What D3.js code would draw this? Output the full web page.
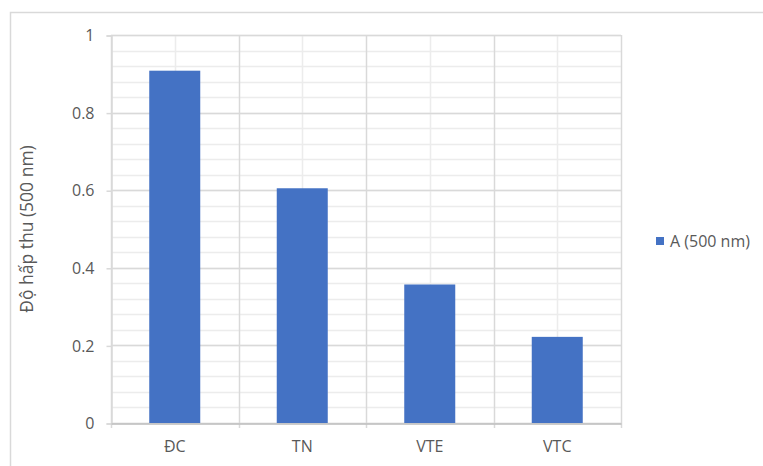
<!DOCTYPE html>
<html>
<head>
<meta charset="utf-8">
<script src="https://cdn.jsdelivr.net/npm/d3@7"></script>
<style>
  body { margin: 0; background: #fff; }
  svg text { font-family: "Open Sans", "Noto Sans", sans-serif; fill: #595959; }
</style>
</head>
<body>
<svg id="chart" width="763" height="466" viewBox="0 0 763 466"></svg>
<script>
var categories = ["ĐC", "TN", "VTE", "VTC"];
var values = [0.908, 0.605, 0.357, 0.222];
var yTicks = [0, 0.2, 0.4, 0.6, 0.8, 1];
var seriesName = "A (500 nm)";
var yLabel = "Độ hấp thu (500 nm)";

var svg = d3.select("#chart");
// không dùng tên "top" vì trùng window.top
var plotLeft = 111, plotRight = 621, plotTop = 35, plotBottom = 423;

// khung ngoài
svg.append("rect")
  .attr("x", 10.5).attr("y", 12.5)
  .attr("width", 800).attr("height", 500)
  .attr("fill", "#fff").attr("stroke", "#d9d9d9").attr("stroke-width", 1.5);

var xScale = d3.scaleBand().domain(categories).range([plotLeft, plotRight]);
var yScale = d3.scaleLinear().domain([0, 1]).range([plotBottom, plotTop]);

// lưới phụ
var minor = d3.range(0, 1.0001, 0.04);
svg.append("g").selectAll("line").data(minor).enter().append("line")
  .attr("x1", plotLeft).attr("x2", plotRight)
  .attr("y1", function (d) { return Math.round(yScale(d)) + 0.5; })
  .attr("y2", function (d) { return Math.round(yScale(d)) + 0.5; })
  .attr("stroke", "#ececec").attr("stroke-width", 1.5);
svg.append("g").selectAll("line").data(categories).enter().append("line")
  .attr("x1", function (d) { return Math.round(xScale(d) + xScale.bandwidth() / 2) + 0.5; })
  .attr("x2", function (d) { return Math.round(xScale(d) + xScale.bandwidth() / 2) + 0.5; })
  .attr("y1", plotTop).attr("y2", plotBottom)
  .attr("stroke", "#ececec").attr("stroke-width", 1.5);

// lưới chính
svg.append("g").selectAll("line").data(yTicks).enter().append("line")
  .attr("x1", plotLeft).attr("x2", plotRight)
  .attr("y1", function (d) { return Math.round(yScale(d)) + 0.5; })
  .attr("y2", function (d) { return Math.round(yScale(d)) + 0.5; })
  .attr("stroke", "#d9d9d9").attr("stroke-width", 1.5);
var bounds = categories.map(function (c) { return xScale(c); }).concat([plotRight]);
svg.append("g").selectAll("line").data(bounds).enter().append("line")
  .attr("x1", function (d) { return Math.round(d) + 0.5; })
  .attr("x2", function (d) { return Math.round(d) + 0.5; })
  .attr("y1", plotTop).attr("y2", plotBottom + 5)
  .attr("stroke", "#d9d9d9").attr("stroke-width", 1.5);

// cột
var barW = xScale.bandwidth() * 0.4;
svg.append("g").selectAll("rect").data(values).enter().append("rect")
  .attr("x", function (d, i) { return xScale(categories[i]) + (xScale.bandwidth() - barW) / 2; })
  .attr("y", function (d) { return yScale(d); })
  .attr("width", barW)
  .attr("height", function (d) { return plotBottom - yScale(d); })
  .attr("fill", "#4472c4");

// trục Y
var yAxis = d3.axisLeft(yScale).tickValues(yTicks).tickSize(5).tickPadding(12)
  .tickFormat(function (d) { return d === 0 ? "0" : d3.format("~g")(d); });
var yG = svg.append("g").attr("transform", "translate(" + (plotLeft + 0.5) + ",0.5)").call(yAxis);
yG.select(".domain").attr("stroke", "#d9d9d9").attr("stroke-width", 1.5);
yG.selectAll(".tick line").attr("stroke", "#d9d9d9").attr("stroke-width", 1.5);
yG.selectAll("text").attr("font-size", 16).attr("fill", "#595959")
  .style("font-family", "'Open Sans', sans-serif");

// trục X
var xAxis = d3.axisBottom(xScale).tickSize(0).tickPadding(17);
var xG = svg.append("g").attr("transform", "translate(0," + (plotBottom + 0.5) + ")").call(xAxis);
xG.select(".domain").attr("stroke", "#bfbfbf").attr("stroke-width", 1.5);
xG.selectAll("text").attr("font-size", 16).attr("fill", "#595959")
  .style("font-family", "'Open Sans', sans-serif");

// nhãn trục Y
svg.append("text")
  .attr("transform", "translate(33," + ((plotTop + plotBottom) / 2) + ") rotate(-90)")
  .attr("text-anchor", "middle")
  .attr("font-size", 17.5)
  .text(yLabel);

// chú thích
svg.append("rect").attr("x", 656).attr("y", 237).attr("width", 8).attr("height", 8).attr("fill", "#4472c4");
svg.append("text").attr("x", 670).attr("y", 247).attr("font-size", 16).text(seriesName);
</script>
</body>
</html>
